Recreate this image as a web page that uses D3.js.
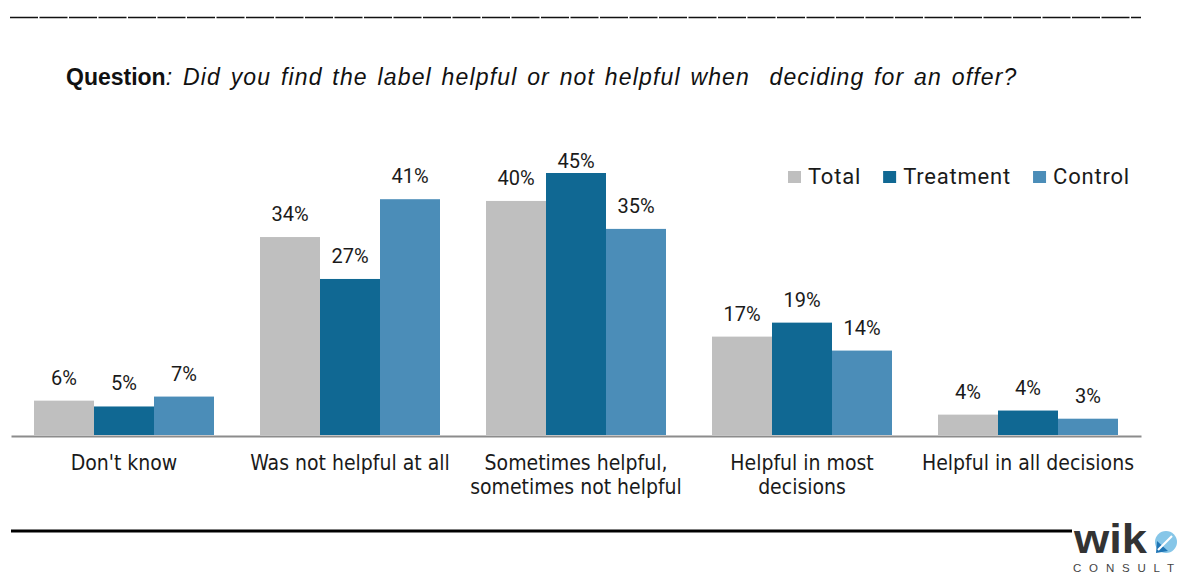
<!DOCTYPE html>
<html>
<head>
<meta charset="utf-8">
<script src="https://cdn.jsdelivr.net/npm/d3@7"></script>
<style>
  html, body { margin: 0; padding: 0; background: #fff; }
  svg { display: block; }
</style>
</head>
<body>
<svg id="chart" width="1179" height="576"></svg>
<script>
// ---- data ----
const categories = ["Don't know", "Was not helpful at all", "Sometimes helpful,\nsometimes not helpful", "Helpful in most\ndecisions", "Helpful in all decisions"];
const seriesNames = ["Total", "Treatment", "Control"];
const totalValues = [5.9, 34.0, 40.2, 16.9, 3.5];
const treatmentValues = [4.9, 26.8, 45.0, 19.3, 4.2];
const controlValues = [6.6, 40.5, 35.4, 14.5, 2.8];
const totalLabels = ["6%", "34%", "40%", "17%", "4%"];
const treatmentLabels = ["5%", "27%", "45%", "19%", "4%"];
const controlLabels = ["7%", "41%", "35%", "14%", "3%"];
const seriesColors = ["#bfbfbf", "#106893", "#4b8db8"];

const titleBold = "Question";
const titleItalic = ": Did you find the label helpful or not helpful when  deciding for an offer?";

// ---- build ----
const valuesBySeries = [totalValues, treatmentValues, controlValues];
const labelsBySeries = [totalLabels, treatmentLabels, controlLabels];
const rows = [];
categories.forEach((c, i) => {
  seriesNames.forEach((s, j) => {
    rows.push({cat: c, series: s, value: valuesBySeries[j][i], label: labelsBySeries[j][i], color: seriesColors[j]});
  });
});

const svg = d3.select("#chart");
const left = 11, right = 1141, baseY = 435, topY = 173;
const p = 46 / 226;
const x0 = d3.scaleBand().domain(categories).range([left, right]).paddingInner(p).paddingOuter(p / 2);
const x1 = d3.scaleBand().domain(seriesNames).range([0, x0.bandwidth()]);
const y = d3.scaleLinear().domain([0, 45]).range([baseY, topY]);
const color = d3.scaleOrdinal().domain(seriesNames).range(seriesColors);

// top separator line
svg.append("line").attr("x1", 10).attr("x2", 1141).attr("y1", 17.5).attr("y2", 17.5)
  .attr("stroke", "#111").attr("stroke-width", 1.4).attr("stroke-dasharray", "28,1.5");

// title
const title = svg.append("text").attr("x", 66).attr("y", 85)
  .attr("font-family", "'Liberation Sans', Arial, sans-serif").attr("font-size", 23).attr("fill", "#111")
  .style("white-space", "pre");
title.append("tspan").attr("font-weight", "bold").text(titleBold);
title.append("tspan").attr("font-style", "italic").attr("letter-spacing", 1.15).attr("word-spacing", 2.2)
  .text(titleItalic);

// bars
svg.append("g").selectAll("rect").data(rows).join("rect")
  .attr("x", d => x0(d.cat) + x1(d.series))
  .attr("width", x1.bandwidth())
  .attr("y", d => y(d.value))
  .attr("height", d => baseY - y(d.value))
  .attr("fill", d => color(d.series));

// value labels
svg.append("g").selectAll("text").data(rows).join("text")
  .attr("x", d => x0(d.cat) + x1(d.series) + x1.bandwidth() / 2)
  .attr("y", d => Math.max(y(d.value) - 16, 168))
  .attr("text-anchor", "middle")
  .attr("font-family", "Roboto, sans-serif").attr("font-size", 20).attr("fill", "#1a1a1a")
  .text(d => d.label);

// baseline axis
const xAxis = d3.axisBottom(x0).tickSize(0).tickFormat("");
const axisG = svg.append("g").attr("transform", `translate(0,${baseY + 1})`).call(xAxis);
axisG.select(".domain").attr("stroke", "#8c8c8c").attr("stroke-width", 2);

// category labels
const catG = svg.append("g");
categories.forEach(c => {
  const lines = c.split("\n");
  const t = catG.append("text")
    .attr("x", x0(c) + x0.bandwidth() / 2)
    .attr("y", 470)
    .attr("text-anchor", "middle")
    .attr("font-family", "'DejaVu Sans Condensed', 'DejaVu Sans', sans-serif")
    .attr("font-stretch", "condensed")
    .attr("font-size", 21).attr("fill", "#1a1a1a");
  lines.forEach((ln, k) => {
    t.append("tspan").attr("x", x0(c) + x0.bandwidth() / 2).attr("dy", k === 0 ? 0 : 24).text(ln);
  });
});

// legend
const legend = svg.append("g");
let lx = 788;
seriesNames.forEach((s, j) => {
  legend.append("rect").attr("x", lx).attr("y", 171).attr("width", 13).attr("height", 12).attr("fill", color(s));
  const t = legend.append("text").attr("x", lx + 20).attr("y", 184)
    .attr("font-family", "Roboto, sans-serif").attr("font-size", 22).attr("letter-spacing", 0.8)
    .attr("fill", "#1a1a1a").text(s);
  lx = lx + 20 + t.node().getComputedTextLength() + 22;
});

// bottom line
svg.append("line").attr("x1", 11).attr("x2", 1072).attr("y1", 531).attr("y2", 531)
  .attr("stroke", "#000").attr("stroke-width", 3);

// logo
const logo = svg.append("g");
logo.append("text").attr("x", 1074).attr("y", 553)
  .attr("font-family", "'Liberation Sans', Arial, sans-serif").attr("font-weight", "bold")
  .attr("font-size", 40).attr("fill", "#333").attr("textLength", 73).attr("lengthAdjust", "spacingAndGlyphs").text("wik");
logo.append("circle").attr("cx", 1166).attr("cy", 542).attr("r", 11).attr("fill", "#86c6e8");
logo.append("path").attr("d", "M1156,553 L1157,541 L1168,551 Z").attr("fill", "#1f75b5");
logo.append("line").attr("x1", 1158).attr("y1", 550).attr("x2", 1172).attr("y2", 536).attr("stroke", "#fff").attr("stroke-width", 2.2);
logo.append("text").attr("x", 1073).attr("y", 572)
  .attr("font-family", "'Liberation Sans', Arial, sans-serif").attr("font-size", 11.5)
  .attr("fill", "#444").attr("textLength", 101).attr("lengthAdjust", "spacing").text("CONSULT");
</script>
</body>
</html>
